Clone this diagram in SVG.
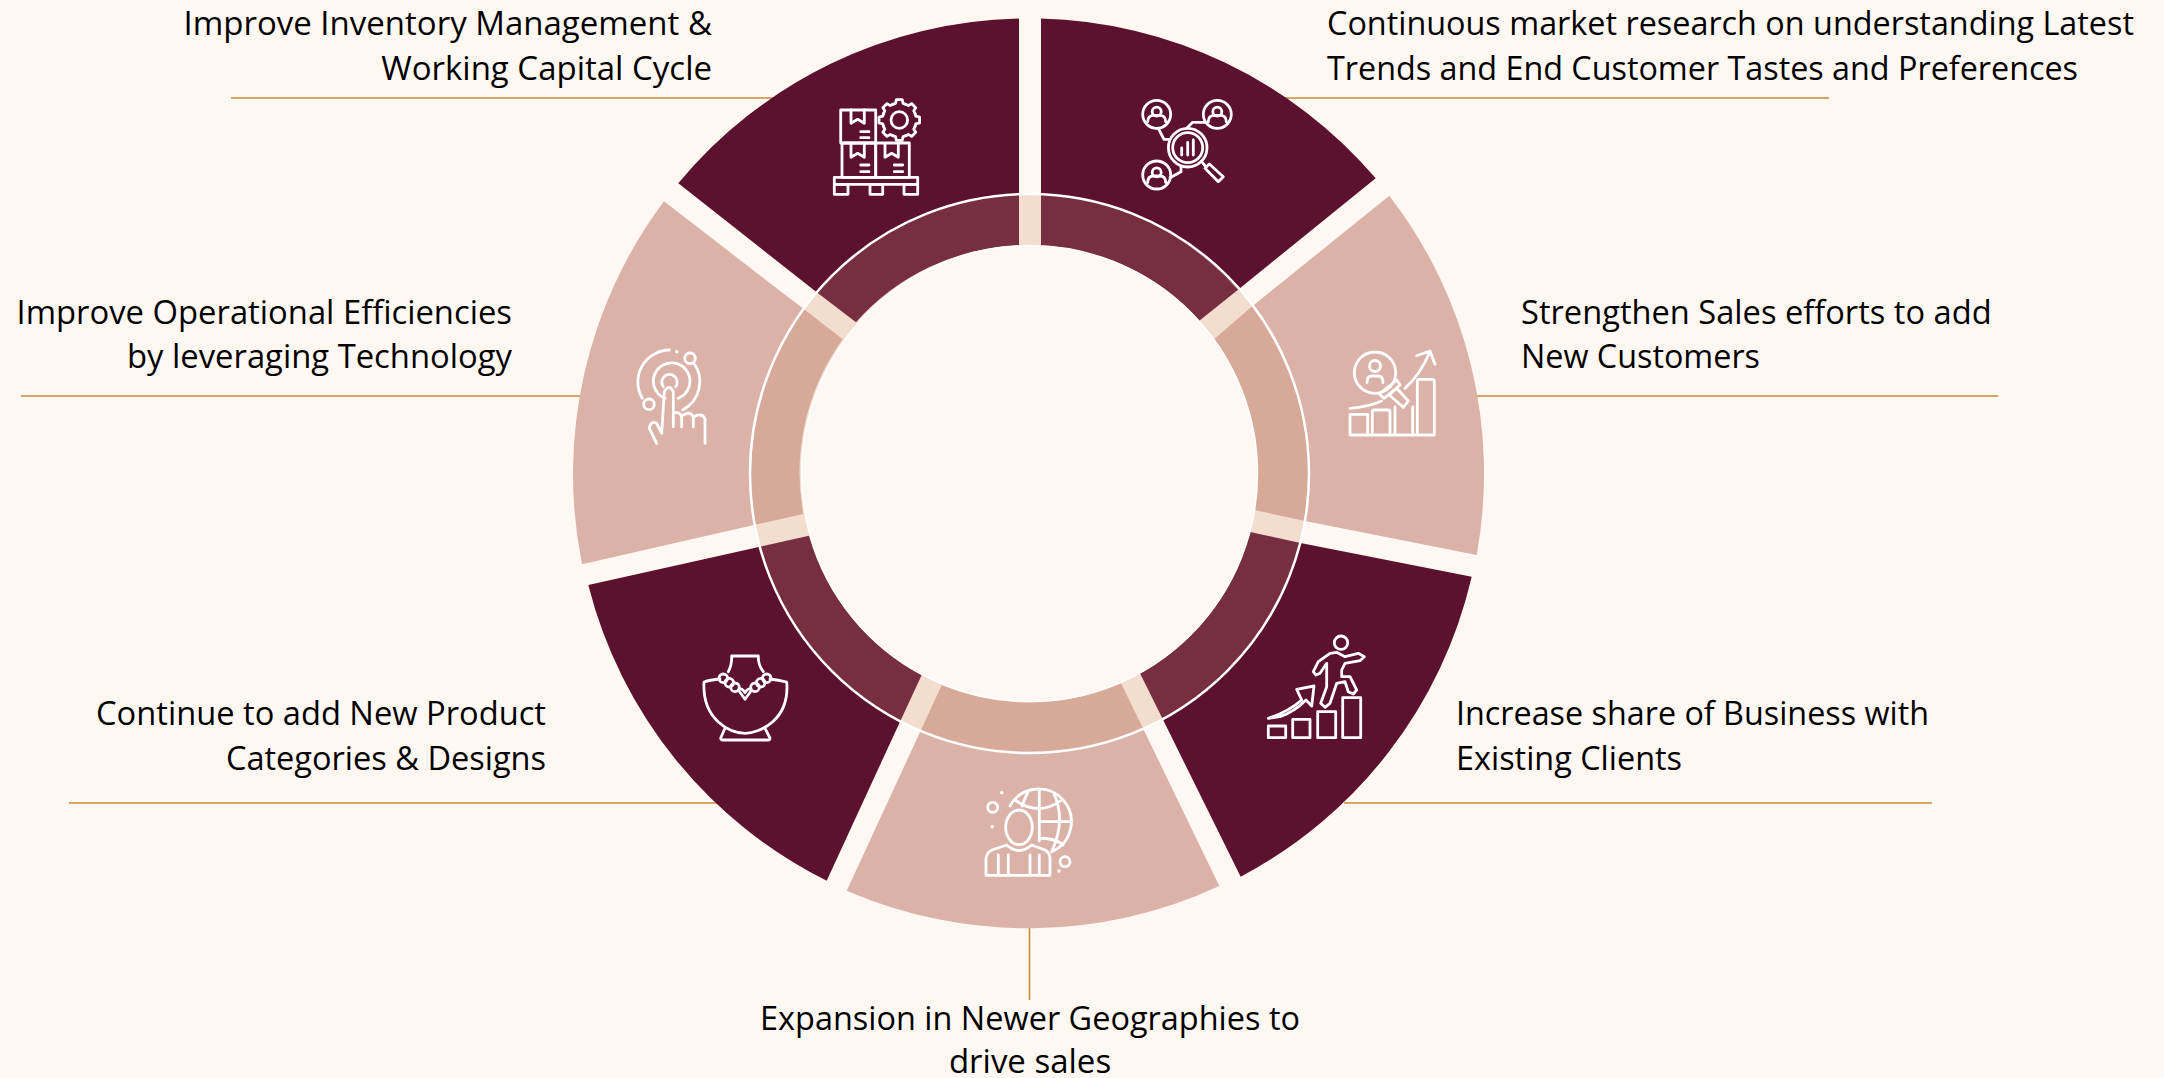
<svg xmlns="http://www.w3.org/2000/svg" width="2164" height="1078" viewBox="0 0 2164 1078">
<style>
.dk{fill:#5C112F}.lt{fill:#DBB2A8}.rd{fill:#762E40}.rl{fill:#D6A999}
.ic{fill:none;stroke:#fff;stroke-width:2.8;stroke-linecap:round;stroke-linejoin:round}
.ln{stroke:#C68C34;stroke-width:1.6;fill:none}
text{font-family:"Open Sans","Liberation Sans",sans-serif;font-size:33px;fill:#000}
.e{text-anchor:end}.m{text-anchor:middle}
</style>
<defs><path id="t" d="M-6.5-15.7L-3.8-16.6L-2.9-20.3H2.9L3.8-16.6L6.5-15.7"/></defs>
<rect width="2164" height="1078" fill="#FFF8F2"/>
<g id="connectors" class="ln">
<path d="M231 98H775"/><path d="M1285 98H1829"/><path d="M21 396H582"/><path d="M1477 396H1998"/><path d="M69 803H717"/><path d="M1344 803H1932"/><path d="M1029.500 928V1000"/>
</g>
<circle id="ring-base" cx="1029.500" cy="473.500" r="254" fill="none" stroke="#F2DDCE" stroke-width="52"/>
<g id="n1"><path class="dk" d="M1041 194V18.600A455 455 0 0 1 1375.700 178.300L1237.700 290A280 280 0 0 0 1041 194Z"/><path class="rd" d="M1041 245.500V194A280 280 0 0 1 1237.700 290L1199.300 320.700A228 228 0 0 0 1041 245.500Z"/>
<g class="ic"><circle cx="1156.700" cy="114.300" r="14"/><circle cx="1156.700" cy="111.700" r="4.500"/><path d="M1147.700 121.800Q1147.700 115.300 1153.700 115.300H1159.700Q1165.700 115.300 1165.700 121.800"/><circle cx="1217.300" cy="114.300" r="14"/><circle cx="1217.300" cy="111.700" r="4.500"/><path d="M1208.300 121.800Q1208.300 115.300 1214.300 115.300H1220.300Q1226.300 115.300 1226.300 121.800"/><circle cx="1156.700" cy="175" r="14"/><circle cx="1156.700" cy="172.400" r="4.500"/><path d="M1147.700 182.500Q1147.700 176 1153.700 176H1159.700Q1165.700 176 1165.700 182.500"/><circle cx="1187.700" cy="147.700" r="19.300"/><circle cx="1187.700" cy="147.700" r="15"/><path d="M1181.700 155V148M1187.700 155V142.300M1193.300 155V140M1201.700 161.700L1206 167M1209.300 164L1223.300 176.700L1218.300 181.700L1205 168.300ZM1158.300 128.300L1164 139.300H1170M1186.700 128.300L1192.700 122.300H1205M1170 177.700L1181 171.700V166.700"/></g></g>
<g id="n2"><path class="lt" d="M1251.700 306.700L1389.300 195.700A455 455 0 0 1 1476.700 555L1305 521A280 280 0 0 0 1251.700 306.700Z"/><path class="rl" d="M1214 339.300L1251.700 306.700A280 280 0 0 1 1305 521L1254.500 510A228 228 0 0 0 1214 339.300Z"/>
<g class="ic"><circle cx="1375" cy="372.700" r="20.700"/><circle cx="1375" cy="366" r="5.500"/><path d="M1367 382.700Q1367 376 1372 376H1378Q1383 376 1383 382.700M1379.300 394L1396.700 380L1400 385L1384 398.300ZM1389.300 395L1396.700 388.300L1408.300 401L1403.300 407.300ZM1405 388.300Q1420 375 1430 351.700M1416.700 355.700L1430 351L1435 364.300M1350 408.300Q1368 407 1381.700 401M1350 435V414.300H1367.700V435M1372.300 435V412Q1372.300 410 1374.300 410H1388Q1390 410 1390 412V435M1395 407V435M1412.700 407V435M1417.300 435V381.300Q1417.300 379.300 1419.300 379.300H1432.300Q1434.300 379.300 1434.300 381.300V435M1350 435H1434.300"/></g></g>
<g id="n3"><path class="dk" d="M1300.500 543L1471.700 576.700A455 455 0 0 1 1240.700 876.700L1162.300 718.300A280 280 0 0 0 1300.500 543Z"/><path class="rd" d="M1250 532L1300.500 543A280 280 0 0 1 1162.300 718.300L1140 673.300A228 228 0 0 0 1250 532Z"/>
<g class="ic"><circle cx="1341" cy="642.700" r="6.700"/><path d="M1330 653.300L1336.700 652.300L1345 656.700L1358.300 653.300L1364.300 656.700L1360 660.700L1345 663.300L1341.700 670V676.700H1350L1356.700 690L1353.300 694L1348.300 691.700L1345 681.700L1336.700 683.300L1330 703.300L1325 707.300L1320.700 703.300L1326.700 686.700V663.300L1320 673.300L1316 675L1313.300 671.700L1318.300 661.700ZM1268.300 718.300Q1288 712 1301.700 700L1296.700 689.300L1314 686L1311.700 706L1306 700Q1294 712 1280 716.700Z"/><rect x="1268.300" y="726" width="17.400" height="11.700"/><rect x="1292.700" y="719.300" width="17.300" height="18.400"/><rect x="1317.700" y="711.700" width="18" height="26"/><rect x="1342.700" y="697.700" width="18" height="40"/></g></g>
<g id="n4"><path class="lt" d="M1142.700 727.700L1219.300 886A455 455 0 0 1 846.700 890.700L921 730A280 280 0 0 0 1142.700 727.700Z"/><path class="rl" d="M1121 683.300L1142.700 727.700A280 280 0 0 1 921 730L941.700 685A228 228 0 0 0 1121 683.300Z"/>
<g class="ic"><ellipse cx="1019" cy="827.300" rx="13.300" ry="17.300"/><path d="M1010 806A32.700 32.700 0 1 1 1051.700 851.700M1039.300 790V841M1054 794Q1066 820 1052 851M1039.300 821.700H1071M1015 800Q1039 817 1061.700 800M1039 838Q1055 838 1063 845M1028 792Q1024 800 1022 806M986 875.300V858.300Q987 852 992 850L1006.700 845Q1019 856 1031.700 845L1045 850Q1050 853 1050 858.300V875.300ZM998.300 855V875M1008.300 855V875M1030 855V875M1039.300 855V875"/><circle cx="992.700" cy="807.300" r="5"/><circle cx="1065" cy="861.700" r="5"/><path d="M1001.700 792.700h.01M992.300 826.700h.01M1059 871h.01" stroke-width="3.500"/></g></g>
<g id="n5"><path class="dk" d="M900 721.700L826.700 880.700A455 455 0 0 1 588.300 585L760 546.700A280 280 0 0 0 900 721.700Z"/><path class="rd" d="M921.700 675L900 721.700A280 280 0 0 1 760 546.700L809 535.700A228 228 0 0 0 921.700 675Z"/>
<g class="ic"><path d="M720 679Q710 680 704 682C702 720 730 733 745 733.300C760 733 790 720 786.700 682Q778 680 770 679M731.700 656H758.300Q758 665 763.300 671.700M731.700 656Q732 665 728.300 671.700M738.300 690L745 699.300L751.700 690Q748 687 745 692.700Q742 687 738.300 690ZM725 728.300L720.700 738Q720.700 740 723 740H768Q770 740 770 738L765 728.300"/><circle cx="723.300" cy="678.300" r="4.300"/><circle cx="729.300" cy="682.700" r="4.300"/><circle cx="735" cy="687.300" r="4.300"/><circle cx="766.700" cy="678.300" r="4.300"/><circle cx="760.700" cy="682.700" r="4.300"/><circle cx="755" cy="687.300" r="4.300"/></g></g>
<g id="n6"><path class="lt" d="M754 525L582 564.300A455 455 0 0 1 664 201.300L803 308.600A280 280 0 0 0 754 525Z"/><path class="rl" d="M803.300 514L754 525A280 280 0 0 1 803 308.600L842.700 339.300A228 228 0 0 0 803.300 514Z"/>
<g class="ic"><path d="M669.300 350A32 32 0 0 0 642.300 398.300M694 363.300A32 32 0 0 1 682.700 410M665 398.300A18.300 18.300 0 1 1 678.300 398.300M663.300 386.700A7.700 7.700 0 1 1 675.700 386.700"/><circle cx="690" cy="358.300" r="5.300"/><circle cx="649" cy="404.300" r="5.300"/><path d="M676.700 351.700h.01" stroke-width="3.500"/><path d="M656.700 443.300L649.300 428.300Q651 420 656.700 423.300L661.700 433.300L664.300 391.700Q669.300 383 673.300 391.700V426.700M673.300 413Q681 411 681.700 418V427M682 416Q690 410 693.300 417V427M693.300 417Q702 412 705 419V443.300"/></g></g>
<g id="n7"><path class="dk" d="M816.700 292.300L678.300 183.300A455 455 0 0 1 1019 18.600V194A280 280 0 0 0 816.700 292.300Z"/><path class="rd" d="M856 322.300L816.700 292.300A280 280 0 0 1 1019 194V245.500A228 228 0 0 0 856 322.300Z"/>
<g class="ic"><rect x="840.700" y="110" width="35" height="33"/><rect x="842" y="143" width="33.700" height="34.300"/><rect x="875.700" y="143" width="33.600" height="34.300"/><rect x="834.300" y="177.300" width="83.400" height="7"/><rect x="834.300" y="184.300" width="13.700" height="10"/><rect x="870" y="184.300" width="12.700" height="10"/><rect x="904" y="184.300" width="13.700" height="10"/>
<path d="M851 110V123.300L857.700 119.300L864.300 123.300V110M851 144V157.300L857.700 153.300L864.300 157.300V144M885 144V157.300L891.700 153.300L898.300 157.300V144M860.700 131.700H869M860.700 137.700H869M860.700 165H869M860.700 171.700H869M894.300 165H902.700M894.300 171.700H902.700"/>
<circle cx="899.300" cy="120" r="8.300"/><g transform="translate(899.300 120)"><use href="#t"/><use href="#t" transform="rotate(45)"/><use href="#t" transform="rotate(90)"/><use href="#t" transform="rotate(135)"/><use href="#t" transform="rotate(180)"/><use href="#t" transform="rotate(225)"/><use href="#t" transform="rotate(270)"/><use href="#t" transform="rotate(315)"/></g></g></g>
<circle id="ring-line" cx="1029.500" cy="473.500" r="279.500" fill="none" stroke="#fff" stroke-width="2.500"/>
<circle id="hub" cx="1029.500" cy="473.500" r="228" fill="#FFF8F2" stroke="#fff" stroke-width="1.500"/>
<g id="labels">
<text class="e" x="712" y="35">Improve Inventory Management &amp;</text><text class="e" x="712" y="80">Working Capital Cycle</text>
<text x="1327" y="35" textLength="807" lengthAdjust="spacingAndGlyphs">Continuous market research on understanding Latest</text><text x="1327" y="80" textLength="751" lengthAdjust="spacingAndGlyphs">Trends and End Customer Tastes and Preferences</text>
<text x="1521" y="324" textLength="470.600" lengthAdjust="spacingAndGlyphs">Strengthen Sales efforts to add</text><text x="1521" y="368" textLength="239" lengthAdjust="spacingAndGlyphs">New Customers</text>
<text class="e" x="512" y="324" textLength="495.500" lengthAdjust="spacingAndGlyphs">Improve Operational Efficiencies</text><text class="e" x="512" y="368" textLength="385" lengthAdjust="spacingAndGlyphs">by leveraging Technology</text>
<text x="1456" y="725" textLength="473" lengthAdjust="spacingAndGlyphs">Increase share of Business with</text><text x="1456" y="770" textLength="226" lengthAdjust="spacingAndGlyphs">Existing Clients</text>
<text class="e" x="546" y="725" textLength="450" lengthAdjust="spacingAndGlyphs">Continue to add New Product</text><text class="e" x="546" y="770" textLength="320" lengthAdjust="spacingAndGlyphs">Categories &amp; Designs</text>
<text class="m" x="1030" y="1030" textLength="540" lengthAdjust="spacingAndGlyphs">Expansion in Newer Geographies to</text><text class="m" x="1030" y="1073">drive sales</text>
</g>
</svg>
